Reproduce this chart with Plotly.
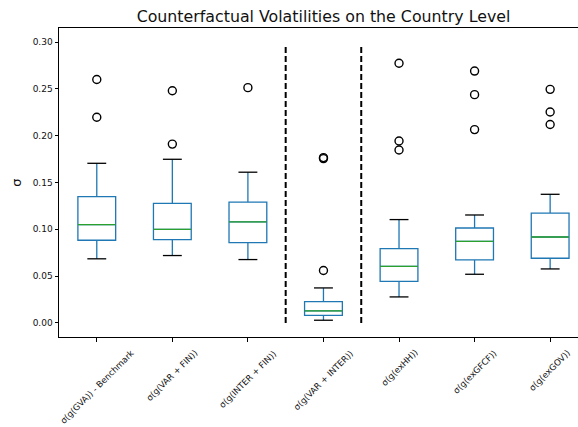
import plotly.graph_objects as go

# Summary statistics of the counterfactual volatilities, one box per scenario
labels = [
    "σ(g(GVA)) - Benchmark",
    "σ(g(VAR + FIN))",
    "σ(g(INTER + FIN))",
    "σ(g(VAR + INTER))",
    "σ(g(exHH))",
    "σ(g(exGFCF))",
    "σ(g(exGOV))",
]
q1 = [0.0883, 0.0890, 0.0858, 0.0082, 0.0445, 0.0673, 0.0691]
median = [0.1050, 0.1000, 0.1080, 0.0128, 0.0605, 0.0872, 0.0918]
q3 = [0.1350, 0.1278, 0.1290, 0.0228, 0.0794, 0.1014, 0.1174]
lower_whisker = [0.0685, 0.0720, 0.0677, 0.0029, 0.0278, 0.0520, 0.0577]
upper_whisker = [0.1705, 0.1748, 0.1610, 0.0374, 0.1104, 0.1153, 0.1374]
outliers = [
    [0.2600, 0.2197],
    [0.2480, 0.1910],
    [0.2513],
    [0.1766, 0.1755, 0.0560],
    [0.2773, 0.1943, 0.1847],
    [0.2690, 0.2438, 0.2065],
    [0.2495, 0.2253, 0.2120],
]
separators = [3.5, 4.5]
separator_top = 0.2975

positions = list(range(1, len(labels) + 1))
BLUE, GREEN, BLACK = "#1f77b4", "#2ca02c", "#000000"
LW = 1.3
BOX_W = 0.5
CAP_W = 0.25

fig = go.Figure()

# Boxes and whiskers (caps drawn separately in black)
fig.add_trace(go.Box(
    x=positions, q1=q1, median=median, q3=q3,
    lowerfence=lower_whisker, upperfence=upper_whisker,
    width=BOX_W, whiskerwidth=0,
    line=dict(color=BLUE, width=LW),
    fillcolor="rgba(255,255,255,0)",
    boxpoints=False, hoverinfo="skip", showlegend=False,
))

# Whisker caps
cx, cy = [], []
for p, lo, hi in zip(positions, lower_whisker, upper_whisker):
    for v in (lo, hi):
        cx += [p - CAP_W / 2, p + CAP_W / 2, None]
        cy += [v, v, None]
fig.add_trace(go.Scatter(x=cx, y=cy, mode="lines",
                         line=dict(color=BLACK, width=LW),
                         hoverinfo="skip", showlegend=False))

# Median lines
mx, my = [], []
for p, m in zip(positions, median):
    mx += [p - BOX_W / 2, p + BOX_W / 2, None]
    my += [m, m, None]
fig.add_trace(go.Scatter(x=mx, y=my, mode="lines",
                         line=dict(color=GREEN, width=LW),
                         hoverinfo="skip", showlegend=False))

# Outliers
ox, oy = [], []
for p, vals in zip(positions, outliers):
    ox += [p] * len(vals)
    oy += vals
fig.add_trace(go.Scatter(x=ox, y=oy, mode="markers",
                         marker=dict(symbol="circle-open", size=8,
                                     color=BLACK, line=dict(width=1.4)),
                         hoverinfo="skip", showlegend=False))

# Dashed separators between scenario groups
for s in separators:
    fig.add_trace(go.Scatter(x=[s, s], y=[0, separator_top], mode="lines",
                             line=dict(color=BLACK, width=2, dash="6px,3px"),
                             hoverinfo="skip", showlegend=False))

# Rotated category labels, centred under each tick
for p, lab in zip(positions, labels):
    fig.add_annotation(x=p, xref="x", y=0, yref="paper",
                       text=lab, textangle=-45, showarrow=False,
                       xanchor="center", yanchor="top", yshift=-8,
                       font=dict(size=8.6, color="#111111",
                                 family="DejaVu Sans"))

fig.update_layout(
    width=578, height=427,
    margin=dict(l=59, r=0, t=28, b=90, autoexpand=False),
    plot_bgcolor="white", paper_bgcolor="white",
    font=dict(family="DejaVu Sans", color="#111111"),
    title=dict(text="Counterfactual Volatilities on the Country Level",
               x=323.5 / 578, xref="container", xanchor="center",
               y=1 - 16 / 427, yref="container", yanchor="middle",
               font=dict(size=15.8, color="#111111")),
    showlegend=False,
    xaxis=dict(range=[0.5, 0.5 + 519 / 75.56], tickvals=positions,
               ticktext=[""] * len(positions),
               showgrid=False, zeroline=False,
               showline=True, linecolor=BLACK, linewidth=1, mirror=True,
               ticks="outside", ticklen=3.5, tickcolor=BLACK, tickwidth=1),
    yaxis=dict(range=[-0.015, 0.315], tickvals=[0, 0.05, 0.10, 0.15, 0.20, 0.25, 0.30],
               tickformat=".2f", showgrid=False, zeroline=False,
               showline=True, linecolor=BLACK, linewidth=1,
               ticks="outside", ticklen=3.5, tickcolor=BLACK, tickwidth=1,
               tickfont=dict(size=9),
               title=dict(text="σ", font=dict(size=13), standoff=8)),
)

fig.write_html("out.html")
